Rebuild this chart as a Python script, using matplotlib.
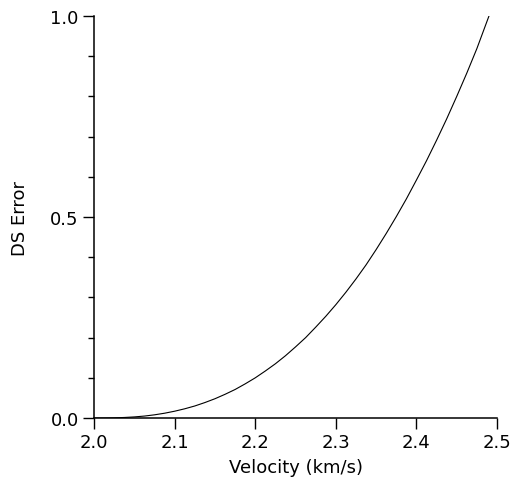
import matplotlib.pyplot as plt
from matplotlib.ticker import MultipleLocator

# values
velocity = [2.0000, 2.0125, 2.0250, 2.0375, 2.0500, 2.0625, 2.0750, 2.0875,
            2.1000, 2.1125, 2.1250, 2.1375, 2.1500, 2.1625, 2.1750, 2.1875,
            2.2000, 2.2125, 2.2250, 2.2375, 2.2500, 2.2625, 2.2750, 2.2875,
            2.3000, 2.3125, 2.3250, 2.3375, 2.3500, 2.3625, 2.3750, 2.3875,
            2.4000, 2.4125, 2.4250, 2.4375, 2.4500, 2.4625, 2.4750, 2.4900]
ds_error = [0.0000, 0.0001, 0.0005, 0.0014, 0.0028, 0.0049, 0.0080, 0.0120,
            0.0170, 0.0230, 0.0300, 0.0385, 0.0480, 0.0590, 0.0710, 0.0850,
            0.1000, 0.1170, 0.1350, 0.1550, 0.1770, 0.2000, 0.2260, 0.2530,
            0.2820, 0.3130, 0.3460, 0.3810, 0.4190, 0.4590, 0.5010, 0.5450,
            0.5920, 0.6400, 0.6910, 0.7440, 0.8000, 0.8580, 0.9190, 1.0000]

x_ticks = [2.0, 2.1, 2.2, 2.3, 2.4, 2.5]
y_ticks = [0.0, 0.5, 1.0]

plt.rcParams["font.family"] = ["DejaVu Sans"]

fig = plt.figure(figsize=(5.14, 4.85), dpi=100)
ax = fig.add_axes([0.183, 0.136, 0.784, 0.829])

ax.plot(velocity, ds_error, color="black", linewidth=0.8)

ax.set_xlim(2.0, 2.5)
ax.set_ylim(0.0, 1.0)
ax.set_xticks(x_ticks)
ax.set_xticklabels([f"{v:.1f}" for v in x_ticks])
ax.set_yticks(y_ticks)
ax.set_yticklabels([f"{v:.1f}" for v in y_ticks])
ax.yaxis.set_minor_locator(MultipleLocator(0.1))

for side in ["top", "right"]:
    ax.spines[side].set_visible(False)
for side in ["left", "bottom"]:
    ax.spines[side].set_linewidth(1.1)

ax.tick_params(which="major", direction="out", length=8, width=1.0,
               labelsize=13, pad=3)
ax.tick_params(which="minor", direction="out", length=4.3, width=1.0)

ax.set_xlabel("Velocity (km/s)", fontsize=13, labelpad=5)
ax.set_ylabel("DS Error", fontsize=13, labelpad=15)

fig.savefig("out.png", dpi=100)
